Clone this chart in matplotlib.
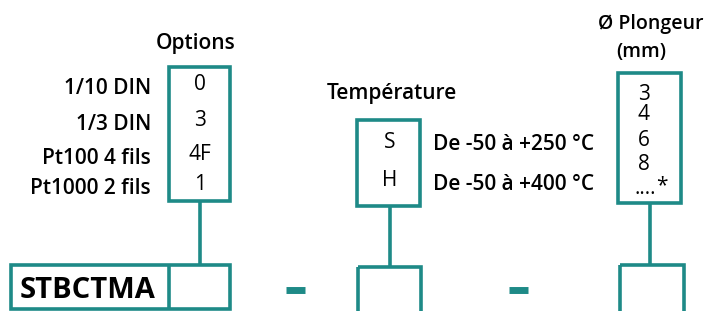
import matplotlib.pyplot as plt
from matplotlib.patches import Rectangle

plt.rcParams['font.family'] = ['Open Sans', 'DejaVu Sans']

teal = '#1E8A87'

product_code = "STBCTMA"
option_labels = ["1/10 DIN", "1/3 DIN", "Pt100 4 fils", "Pt1000 2 fils"]
option_codes = ["0", "3", "4F", "1"]
temp_codes = ["S", "H"]
temp_labels = ["De -50 à +250 °C", "De -50 à +400 °C"]
diameters = ["3", "4", "6", "8"]

fig = plt.figure(figsize=(7.11, 3.11), dpi=100)
ax = fig.add_axes([0, 0, 1, 1])
ax.set_xlim(0, 711)
ax.set_ylim(311, 0)
ax.axis('off')

lw = 2.6
fs_lab = 15
fs_val = 15

def box(x0, y0, x1, y1):
    ax.add_patch(Rectangle((x0, y0), x1 - x0, y1 - y0, fill=False,
                           edgecolor=teal, lw=lw, clip_on=False))

def vline(x, y0, y1):
    ax.plot([x, x], [y0, y1], color=teal, lw=lw, solid_capstyle='butt')

# options column
ax.text(196, 44, "Options", ha='center', va='center', fontsize=fs_lab, fontweight='semibold')
box(169, 67, 230, 201)
opt_y = [84, 121, 154, 185]
for lab, code, y in zip(option_labels, option_codes, opt_y):
    ax.text(151, y + 4, lab, ha='right', va='center', fontsize=fs_lab, fontweight='semibold')
    ax.text(200, y, code, ha='center', va='center', fontsize=fs_val)
vline(200, 201, 264)

# temperature column
ax.text(392, 94, "Température", ha='center', va='center', fontsize=fs_lab, fontweight='semibold')
box(357, 120, 420, 206)
temp_y = [142, 181]
for code, lab, y in zip(temp_codes, temp_labels, temp_y):
    ax.text(390, y, code, ha='center', va='center', fontsize=fs_val)
    ax.text(433, y + 3, lab, ha='left', va='center', fontsize=fs_lab, fontweight='semibold')
vline(390, 206, 266)

# diameter column
ax.text(651, 24, "Ø Plongeur", ha='center', va='center', fontsize=14, fontweight='semibold')
ax.text(641, 52, "(mm)", ha='center', va='center', fontsize=14, fontweight='semibold')
box(618, 73, 681, 203)
dia_y = [95, 115, 141, 165]
for d, y in zip(diameters, dia_y):
    ax.text(644, y, d, ha='center', va='center', fontsize=fs_val)
ax.text(645, 188, "....", ha='center', va='center', fontsize=fs_val)
ax.text(662, 186, "*", ha='center', va='center', fontsize=fs_val)
vline(650, 203, 264)

# bottom code row
box(11, 265, 230, 309)
vline(169, 265, 309)
ax.text(88, 290, product_code, ha='center', va='center', fontsize=21, fontweight='bold')
ax.plot([286, 305], [290, 290], color=teal, lw=5, solid_capstyle='butt')
ax.plot([509, 528], [290, 290], color=teal, lw=5, solid_capstyle='butt')
box(358, 267, 421, 330)
box(620, 265, 684, 330)

fig.savefig("out.png", dpi=100)
